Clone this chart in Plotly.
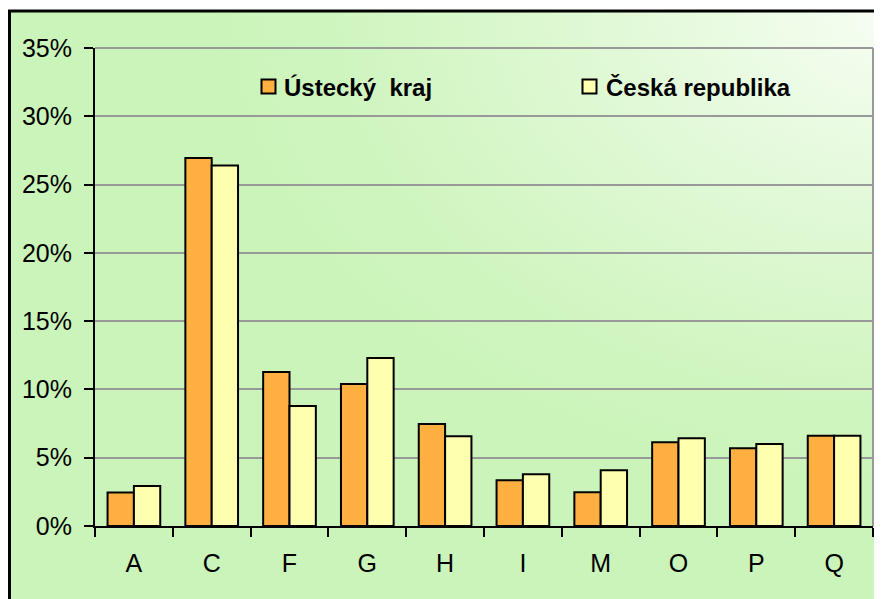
import base64
import plotly.graph_objects as go

categories = ["A", "C", "F", "G", "H", "I", "M", "O", "P", "Q"]
ustecky = [2.45, 26.95, 11.27, 10.39, 7.46, 3.35, 2.47, 6.14, 5.70, 6.60]
cr = [2.93, 26.40, 8.78, 12.30, 6.58, 3.79, 4.08, 6.43, 6.01, 6.60]
series_names = ["Ústecký\u00a0 kraj", "Česká republika"]
series_colors = ["#FFB040", "#FFFFB0"]
ytick_vals = [0, 5, 10, 15, 20, 25, 30, 35]
ytick_text = ["0%", "5%", "10%", "15%", "20%", "25%", "30%", "35%"]

W, H = 882, 599
OFF = 8  # page body margin
L, R, T, B = 87, 17, 40, 81
pw, ph = W - L - R, H - T - B


def px_x(sx):
    return (sx - OFF - L) / pw


def px_y(sy):
    return (H - B - (sy - OFF)) / ph


svg = (
    '<svg xmlns="http://www.w3.org/2000/svg" width="1000" height="1000" '
    'viewBox="0 0 1000 1000" preserveAspectRatio="none">'
    '<defs><radialGradient id="g" cx="1" cy="0" r="0.8" fx="1" fy="0">'
    '<stop offset="0" stop-color="#f8fef5"/>'
    '<stop offset="0.4" stop-color="#e2f9d8"/>'
    '<stop offset="0.8" stop-color="#cff5bf"/>'
    '<stop offset="1" stop-color="#caf4b9"/>'
    '</radialGradient></defs>'
    '<rect x="0" y="0" width="1000" height="1000" fill="url(#g)"/></svg>'
)
src = "data:image/svg+xml;base64," + base64.b64encode(svg.encode()).decode()

fig = go.Figure()
fig.add_trace(go.Bar(x=categories, y=ustecky, name=series_names[0],
                     marker=dict(color=series_colors[0], line=dict(color="black", width=2))))
fig.add_trace(go.Bar(x=categories, y=cr, name=series_names[1],
                     marker=dict(color=series_colors[1], line=dict(color="black", width=2))))

fx0, fx1 = px_x(9.5), px_x(910)
fy1, fy0 = px_y(11), px_y(630)

shapes = [
    dict(type="rect", xref="paper", yref="paper", x0=fx0, x1=fx1, y0=fy0, y1=fy1,
         line=dict(color="black", width=3), fillcolor="rgba(0,0,0,0)", layer="below"),
    dict(type="line", xref="paper", yref="paper", x0=1, x1=1, y0=0, y1=1,
         line=dict(color="#999999", width=2), layer="below"),
    dict(type="line", xref="paper", yref="paper", x0=0, x1=1, y0=1, y1=1,
         line=dict(color="#999999", width=2), layer="below"),
]
annotations = []
legend_sq_x = [261.5, 582.5]
legend_txt_x = [282, 604]
for i in range(2):
    shapes.append(dict(type="rect", xref="paper", yref="paper",
                       x0=px_x(legend_sq_x[i]), x1=px_x(legend_sq_x[i] + 14),
                       y0=px_y(93.5), y1=px_y(79.5),
                       line=dict(color="black", width=2), fillcolor=series_colors[i]))
    annotations.append(dict(text="<b>%s</b>" % series_names[i], xref="paper", yref="paper",
                            x=px_x(legend_txt_x[i]), y=px_y(87), xanchor="left",
                            yanchor="middle", showarrow=False,
                            font=dict(family="Liberation Sans, Arial, sans-serif", size=24,
                                      color="black")))

fig.update_layout(
    width=W, height=H,
    margin=dict(l=L, r=R, t=T, b=B, autoexpand=False),
    paper_bgcolor="white",
    plot_bgcolor="rgba(0,0,0,0)",
    barmode="group", bargap=0.323, bargroupgap=0,
    font=dict(family="Liberation Sans, Arial, sans-serif", size=25, color="black"),
    showlegend=False,
    images=[dict(source=src, xref="paper", yref="paper", x=fx0, y=fy1,
                 sizex=fx1 - fx0, sizey=fy1 - fy0, sizing="stretch",
                 xanchor="left", yanchor="top", layer="below")],
    shapes=shapes,
    annotations=annotations,
)
fig.update_xaxes(
    type="category", showline=True, linecolor="black", linewidth=2,
    ticks="outside", tickson="boundaries", ticklen=9, tickwidth=2, tickcolor="black",
    showgrid=False, ticklabelstandoff=14,
)
fig.update_yaxes(
    range=[0, 35], tickvals=ytick_vals, ticktext=ytick_text,
    showline=True, linecolor="black", linewidth=2,
    ticks="outside", ticklen=9, tickwidth=2, tickcolor="black",
    showgrid=True, gridcolor="#999999", gridwidth=2, zeroline=False,
    ticklabelstandoff=7,
)
fig.write_html("out.html")
